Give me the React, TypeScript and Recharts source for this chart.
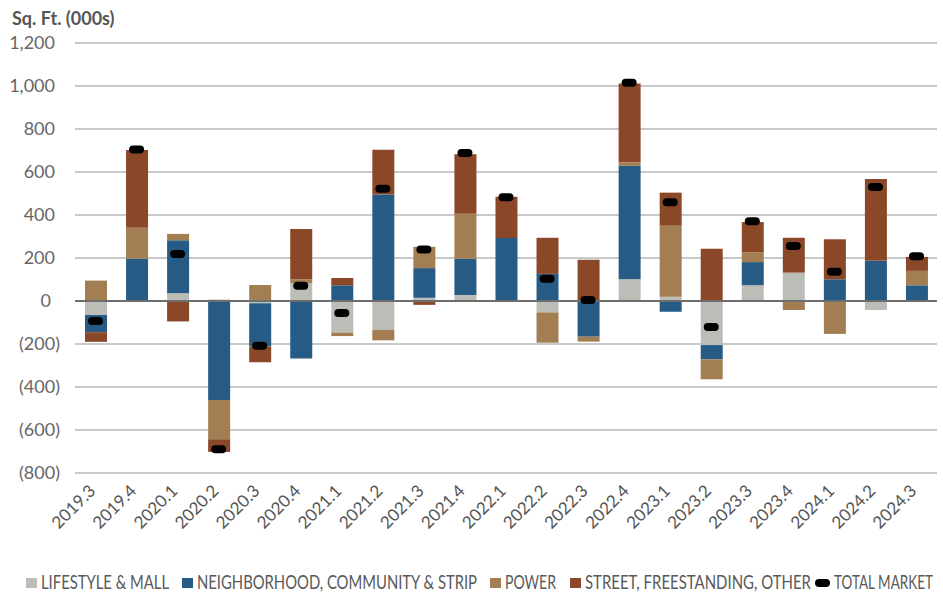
import React from 'react';
import { ComposedChart, Bar, Line, XAxis, YAxis, CartesianGrid, ReferenceLine, Legend } from 'recharts';

const quarters = ['2019.3','2019.4','2020.1','2020.2','2020.3','2020.4','2021.1','2021.2','2021.3','2021.4','2022.1','2022.2','2022.3','2022.4','2023.1','2023.2','2023.3','2023.4','2024.1','2024.2','2024.3'];
const lifestyleMall = [-65, 0, 36, 7, -10, 82, -147, -135, 15, 28, 0, -53, 0, 101, 20, -205, 73, 132, 0, -42, 0];
const neighborhood = [-80, 197, 246, -460, -202, -267, 73, 495, 138, 169, 293, 126, -166, 528, -50, -66, 108, 0, 101, 187, 73];
const power = [95, 144, 30, -183, 74, 19, -16, -48, 99, 209, -4, -141, -23, 16, 330, -93, 46, -42, -153, 0, 67];
const street = [-45, 361, -95, -59, -73, 234, 34, 208, -18, 276, 192, 168, 192, 367, 154, 243, 140, 162, 186, 380, 65];
const totalMarket = [-93, 705, 219, -690, -208, 71, -56, 522, 240, 688, 482, 104, 5, 1015, 459, -121, 371, 256, 136, 530, 208];

const seriesNames = ['LIFESTYLE & MALL', 'NEIGHBORHOOD, COMMUNITY & STRIP', 'POWER', 'STREET, FREESTANDING, OTHER', 'TOTAL MARKET'];
const seriesColors = ['#bdbdb8', '#265b85', '#a27e52', '#8b4829', '#000000'];
const yTicks = [-800, -600, -400, -200, 0, 200, 400, 600, 800, 1000, 1200];
const yTitle = 'Sq. Ft. (000s)';

const data = quarters.map((q, i) => ({
  q,
  lifestyle: lifestyleMall[i],
  neighborhood: neighborhood[i],
  power: power[i],
  street: street[i],
  total: totalMarket[i],
}));

const FONT = 'Lato, "Noto Sans", sans-serif';

function fmt(v: number): string {
  const s = Math.abs(v).toLocaleString('en-US');
  return v < 0 ? `(${s})` : s;
}

const YTick = (props: any) => {
  const { x, y, payload } = props;
  const v = payload.value;
  const dx = v < 0 ? -15 : v === 0 ? -24 : -20;
  return (
    <text x={x + dx} y={y} dy="0.35em" textAnchor="end" fill="#666" fontSize={18} fontFamily={FONT}>
      {fmt(v)}
    </text>
  );
};

const XTick = (props: any) => {
  const { x, y, payload } = props;
  const px = x + 1;
  const py = y + 19;
  return (
    <text x={px} y={py} textAnchor="end" transform={`rotate(-45, ${px}, ${py})`} fill="#555" fontSize={17} fontFamily={FONT}>
      {payload.value}
    </text>
  );
};

const Pill = (props: any) => {
  const { cx, cy, index } = props;
  if (cx == null || cy == null) return <g key={index} />;
  return <rect key={index} x={cx - 7.5} y={cy - 4} width={15} height={8} rx={4} ry={4} fill="#000" />;
};

const LegendContent = () => {
  const markerX = [26, 182, 490, 570, 815];
  const textW = [128, 280, 51, 226, 99];
  const sx = 0.78;
  return (
    <svg width={943} height={32} style={{ display: 'block' }}>
      {seriesNames.map((name, i) => {
        const isPill = i === 4;
        const mw = isPill ? 15 : 11;
        return (
          <g key={name}>
            {isPill ? (
              <rect x={markerX[i]} y={19} width={15} height={8} rx={4} ry={4} fill={seriesColors[i]} />
            ) : (
              <rect x={markerX[i]} y={18} width={11} height={10} fill={seriesColors[i]} />
            )}
            <g transform={`translate(${markerX[i] + mw + 4}, 29) scale(${sx}, 1)`}>
              <text
                x={0}
                y={0}
                fontSize={19}
                fontFamily={FONT}
                fill="#595959"
                textLength={textW[i] / sx}
                lengthAdjust="spacingAndGlyphs"
              >
                {name}
              </text>
            </g>
          </g>
        );
      })}
    </svg>
  );
};

export default function App() {
  return (
    <div style={{ position: 'absolute', left: 0, top: 0, width: 943, height: 592, background: '#fff' }}>
      <ComposedChart
        width={943}
        height={592}
        data={data}
        stackOffset="sign"
        margin={{ top: 43, right: 6, bottom: 0, left: 5 }}
      >
        <CartesianGrid vertical={false} stroke="#c9c9c9" strokeWidth={2} />
        <XAxis
          dataKey="q"
          height={87}
          interval={0}
          axisLine={false}
          tickLine={false}
          tickSize={0}
          tickMargin={0}
          tick={<XTick />}
        />
        <YAxis
          width={70}
          domain={[-800, 1200]}
          ticks={yTicks}
          interval={0}
          axisLine={false}
          tickLine={false}
          tickSize={0}
          tickMargin={0}
          tick={<YTick />}
          label={{
            content: () => (
              <text x={12} y={25} fontSize={18} fontWeight="bold" fill="#555" fontFamily={FONT}>
                {yTitle}
              </text>
            ),
          }}
        />
        <Bar dataKey="lifestyle" name={seriesNames[0]} stackId="a" fill={seriesColors[0]} barSize={22} isAnimationActive={false} />
        <Bar dataKey="neighborhood" name={seriesNames[1]} stackId="a" fill={seriesColors[1]} barSize={22} isAnimationActive={false} />
        <Bar dataKey="power" name={seriesNames[2]} stackId="a" fill={seriesColors[2]} barSize={22} isAnimationActive={false} />
        <Bar dataKey="street" name={seriesNames[3]} stackId="a" fill={seriesColors[3]} barSize={22} isAnimationActive={false} />
        <ReferenceLine y={0} stroke="#6e6e6e" strokeWidth={2} />
        <Line
          dataKey="total"
          name={seriesNames[4]}
          stroke="none"
          dot={(p: any) => <Pill key={p.index} {...p} />}
          activeDot={false}
          isAnimationActive={false}
        />
        <Legend
          verticalAlign="bottom"
          height={32}
          content={() => <LegendContent />}
          wrapperStyle={{ left: 0, bottom: 0, width: 943, height: 32 }}
        />
      </ComposedChart>
    </div>
  );
}
